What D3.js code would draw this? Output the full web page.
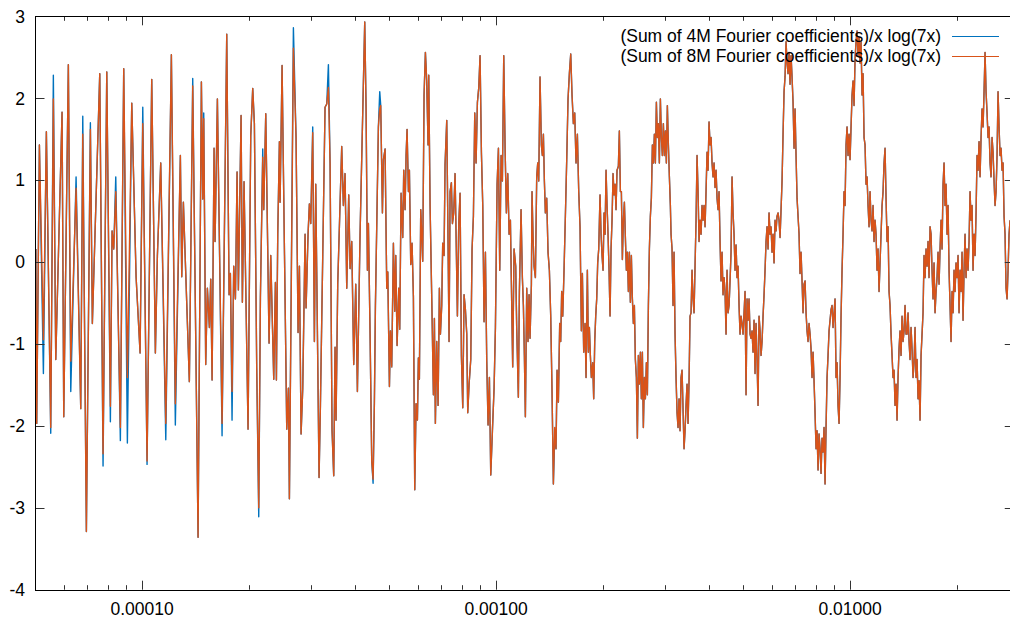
<!DOCTYPE html>
<html><head><meta charset="utf-8">
<script src="https://cdn.jsdelivr.net/npm/d3@7"></script>
<style>
html,body{margin:0;padding:0;background:#fff;}
svg{display:block;}
text{font-family:"Liberation Sans",Arial,Helvetica,sans-serif;fill:#000;}
</style>
</head><body>
<svg id="chart" width="1010" height="619"></svg>
<script>
// ---------- data ----------
const seriesLabels = ["(Sum of 4M Fourier coefficients)/x log(7x)", "(Sum of 8M Fourier coefficients)/x log(7x)"];
const seriesColors = ["#0072bd", "#d95319"];
const xDomain = [5e-5, 0.029];
const yDomain = [-4, 3];
const xTickValues = [1e-4, 1e-3, 1e-2];
const xTickLabels = ["0.00010", "0.00100", "0.01000"];
const yTickValues = [-4, -3, -2, -1, 0, 1, 2, 3];

// sparse part of the curve: [log10(x), y] (8M series)
const lowPoints = [
[-4.300,0.16],[-4.2976,-1.97],[-4.290,1.43],[-4.2787,-0.95],[-4.2703,1.59],[-4.258,-2.02],[-4.2506,1.99],[-4.2438,-1.19],[-4.226,1.83],[-4.2212,-1.89],[-4.2082,2.41],[-4.2014,-1.21],[-4.1864,0.90],[-4.1732,-1.79],[-4.1675,1.56],[-4.1573,-3.29],[-4.146,1.62],[-4.1404,-0.75],[-4.1195,2.30],[-4.1102,-2.34],[-4.0997,2.32],[-4.0895,-1.76],[-4.0847,0.38],[-4.08,0.16],[-4.0743,0.86],[-4.0613,-2.02],[-4.0518,2.36],[-4.0415,-1.41],[-4.0291,1.94],[-4.0169,-0.18],[-4.0056,-1.11],[-3.998,1.69],[-3.9859,-2.43],[-3.9727,2.23],[-3.9624,-1.11],[-3.9567,0.08],[-3.9473,1.21],[-3.933,-1.97],[-3.9172,2.53],[-3.906,-1.73],[-3.8918,1.30],[-3.8879,-0.18],[-3.8833,0.73],[-3.8664,-1.46],[-3.8569,2.15],[-3.8418,-3.36],
[-3.8324,2.20],[-3.8286,0.77],[-3.8258,1.75],[-3.8202,-1.25],[-3.8155,-0.32],[-3.8098,-0.80],[-3.8060,-0.21],[-3.8022,-1.44],[-3.7966,1.39],[-3.7938,0.25],[-3.7872,1.99],[-3.7740,-1.97],[-3.7608,2.78],[-3.7542,-0.40],[-3.7505,-0.14],[-3.7458,-1.58],[-3.7411,-0.05],[-3.7363,-0.45],[-3.7316,1.10],[-3.7279,-0.34],[-3.7203,1.79],[-3.7166,-0.49],[-3.7119,0.98],[-3.7006,-2.04],[-3.6930,1.54],[-3.6874,2.12],[-3.6827,1.69],[-3.6761,-1.30],[-3.6704,-3.00],[-3.6657,-0.43],[-3.6591,1.28],[-3.6563,0.64],[-3.6506,1.81],[-3.6412,-0.99],[-3.6365,0.08],[-3.6280,-1.43],[-3.6233,-0.25],[-3.6205,-1.44],[-3.6167,0.34],[-3.6120,1.47],[-3.6101,0.73],[-3.6045,2.40],[-3.5913,-2.04],[-3.5866,-1.54],[-3.5838,-2.89],[-3.5725,2.61],[-3.5650,1.52],[-3.5593,-0.86],[-3.5555,-0.05],[-3.5508,-2.10],[-3.5461,-1.54],[-3.5395,0.34],[-3.5367,-0.56],[-3.5311,0.34],[-3.5273,0.71],[-3.5235,0.47],[-3.5179,1.58],[-3.5132,-0.97],[-3.5094,0.95],[-3.5000,-2.63],[-3.4962,-1.75],[-3.4831,1.89],[-3.4783,1.93],[-3.4736,2.13],[-3.4689,1.21],[-3.4633,-2.06],[-3.4586,-2.61],[-3.4548,-1.04],[-3.4520,-1.93],[-3.4473,-0.27],[-3.4360,1.41],[-3.4313,0.69],[-3.4266,1.08],[-3.4218,-0.32],[-3.4162,0.82],[-3.4124,-0.08],[-3.4077,0.25],[-3.4021,-1.25],[-3.3964,-0.27],[-3.3917,-1.58],[-3.3842,0.34],
[-3.3710,2.93],[-3.3672,1.87],[-3.3634,-0.10],[-3.3606,0.47],[-3.3559,-0.88],[-3.3512,-2.43],[-3.3474,-2.65],[-3.3437,-1.71],[-3.3408,-0.53],[-3.3324,1.65],[-3.3286,1.87],[-3.3258,1.91],[-3.3210,0.60],[-3.3182,1.25],[-3.3135,1.38],[-3.3088,-0.32],[-3.3059,-0.12],[-3.3012,-1.52],[-3.2984,-0.84],[-3.2947,-1.28],[-3.2900,0.23],[-3.2862,-0.60],[-3.2834,0.08],[-3.2796,-1.02],[-3.2749,-0.32],[-3.2721,-0.82],[-3.2683,0.84],[-3.2636,0.30],[-3.2608,1.12],[-3.2570,0.64],[-3.2542,1.30],[-3.2514,1.62],[-3.2476,0.86],[-3.2448,1.12],[-3.2410,-0.03],[-3.2373,0.23],[-3.2335,-0.43],[-3.2297,-2.78],[-3.2260,-1.73],[-3.2222,-1.93],[-3.2194,-1.17],[-3.2166,-1.43],[-3.2128,0.64],[-3.2100,0.34],[-3.2072,0.01],[-3.2034,2.04],[-3.1996,2.56],[-3.1959,2.21],[-3.1921,1.43],[-3.1902,2.28],[-3.1864,0.69],[-3.1808,-0.66],[-3.1770,-1.62],[-3.1742,-0.69],[-3.1714,-1.97],[-3.1676,-0.97],[-3.1638,-1.75],[-3.1601,-0.32],[-3.1572,-0.88],[-3.1535,-0.53],[-3.1507,0.23],[-3.1469,0.08],[-3.1441,1.19],[-3.1393,1.73],[-3.1356,0.23],[-3.1328,-0.97],[-3.1299,0.86],[-3.1262,0.97],[-3.1233,0.47],[-3.1196,0.60],[-3.1158,1.08],[-3.1130,0.34],[-3.1092,-0.66],[-3.1054,0.47],[-3.1017,0.84],[-3.0979,-1.14],[-3.0941,-1.78],[-3.0904,-0.40],[-3.0866,-0.58],[-3.0828,-0.88],[-3.0800,-1.84],[-3.0762,-1.49],[-3.0715,-1.19],[-3.0678,0.16],[-3.0640,0.56],[-3.0602,1.82],[-3.0565,1.21],[-3.0527,1.95],[-3.0489,2.13],[-3.0452,2.52],[-3.0414,1.34],[-3.0376,0.69],[-3.0339,-0.73],[-3.0301,0.12],[-3.0263,-1.21],[-3.0226,-1.99],[-3.0188,-1.41],[-3.0150,-2.60],[-3.0103,-2.06],[-3.0056,-1.54],[-3.0018,-0.80],[-2.9971,0.95],[-2.9933,1.39],[-2.9896,-0.10],[-2.9858,1.30],[-2.9821,0.99],[-2.9783,2.52],[-2.9745,1.39],[-2.9708,0.60],[-2.9670,1.08],[-2.9632,0.34],[-2.9595,0.51],
[-2.9530,-1.28],[-2.9492,0.16],[-2.9445,-0.05],[-2.9417,-0.80],[-2.9370,-1.65],[-2.9341,-0.36],[-2.9294,0.64],[-2.9257,-0.19],[-2.9228,-0.53],[-2.9200,-1.14],[-2.9172,-1.89],[-2.9134,-0.32],[-2.9097,-0.97],[-2.9068,-0.40],[-2.9040,-0.93],[-2.9002,-0.27],[-2.8984,0.86],[-2.8955,0.30],[-2.8927,-0.05],[-2.8889,-0.19],[-2.8852,1.04],[-2.8823,1.21],[-2.8795,0.99],[-2.8758,2.26],[-2.8720,1.43],[-2.8692,1.30],[-2.8663,1.56],[-2.8635,0.99],[-2.8607,0.60],[-2.8569,0.78],[-2.8532,0.12],[-2.8494,-0.10],[-2.8456,-0.66],[-2.8419,-1.58],[-2.8381,-2.71],[-2.8343,-2.02],[-2.8306,-2.28],[-2.8277,-1.32],[-2.8240,-1.71],[-2.8202,-0.75],[-2.8174,-0.97],[-2.8146,-0.36],[-2.8117,-0.66],[-2.8080,-0.10],[-2.8042,0.56],[-2.8004,1.25],[-2.7967,1.99],[-2.7929,2.30],[-2.7891,2.54],[-2.7854,2.04],[-2.7816,1.69],[-2.7778,1.82],[-2.7741,1.21],[-2.7703,1.56],[-2.7665,0.86],[-2.7628,0.43],[-2.7590,-0.84],[-2.7562,-0.14],[-2.7524,-1.10],[-2.7486,-0.75],[-2.7458,-1.41],[-2.7421,-0.10],[-2.7392,-1.10],[-2.7364,-0.80],[-2.7336,-1.14],[-2.7308,-1.41],[-2.7270,-1.23],[-2.7242,-1.67],[-2.7213,-0.97],[-2.7185,-0.66],[-2.7157,-0.45],[-2.7129,-0.01],[-2.7100,0.16],[-2.7063,0.82],[-2.7034,0.34],[-2.7006,0.08],[-2.6978,-0.10],[-2.6950,0.60],[-2.6921,0.34],[-2.6893,1.12],[-2.6865,0.69],[-2.6837,0.34],[-2.6808,-0.10],[-2.6780,-0.66],[-2.6752,0.16],[-2.6724,0.51],[-2.6695,1.08],[-2.6667,0.82],[-2.6639,0.95],[-2.6611,0.64],[-2.6583,1.12],[-2.6545,1.17],[-2.6517,1.60],[-2.6488,0.86],[-2.6460,0.86],[-2.6432,0.03],[-2.6404,0.51],[-2.6375,0.73],[-2.6347,0.30],[-2.6319,-0.10],[-2.6291,0.12],[-2.6262,-0.36],[-2.6234,0.12],[-2.6206,-0.49],[-2.6178,0.08],[-2.6149,-0.45],[-2.6121,-0.75],[-2.6093,-0.53],[-2.6065,-1.19],[-2.6036,-1.41],[-2.6008,-2.15],[-2.5980,-1.14],[-2.5952,-1.49],[-2.5923,-1.10],[-2.5895,-1.67],[-2.5867,-1.10],[-2.5839,-2.02],[-2.5810,-1.41],[-2.5782,-1.67],[-2.5754,-1.23],[-2.5726,-1.62],[-2.5697,-0.53],[-2.5669,0.16],[-2.5641,0.56],[-2.5613,0.78],[-2.5584,1.43],[-2.5556,1.21],[-2.5528,1.56],[-2.5500,1.21],[-2.5471,1.95],[-2.5443,1.52],[-2.5415,1.69],[-2.5387,1.21],[-2.5358,1.99],[-2.5330,1.52],[-2.5302,1.30],[-2.5274,1.69],[-2.5245,1.30],[-2.5217,1.60],[-2.5189,1.21],[-2.5161,1.91],[-2.5132,1.43],[-2.5104,1.04],[-2.5076,0.69]
];

// dense part of the curve: sampled on a regular log10(x) grid
const gridStartLog = -2.5057;
const gridStepLog = 0.0028249;
const gridY = [
0.34,0.16,-0.53,0.12,-0.88,-1.41,-1.84,-2.02,-1.67,-2.06,-1.41,-1.32,-1.80,-2.28,-2.06,-1.75,-1.49,-1.97,-1.45,-0.66,
-0.62,-0.10,-0.45,-0.62,-0.05,0.51,1.30,0.86,0.25,0.51,0.34,0.69,0.51,0.69,0.43,0.86,1.34,1.12,1.71,1.43,
1.52,1.21,1.04,1.21,0.91,1.12,0.78,0.64,0.86,0.25,-0.23,0.12,-0.40,-0.19,-0.36,-0.88,-0.10,-0.62,-0.53,-0.23,
0.12,1.04,0.60,0.34,-0.10,0.21,-0.19,-0.05,-0.53,-0.88,-0.66,-0.75,-0.88,-0.62,-0.36,-1.62,-0.45,-0.71,-0.45,-0.88,
-0.93,-0.84,-1.10,-0.71,-1.36,-0.75,-1.19,-1.75,-0.66,-0.84,-1.14,-0.97,-0.66,-0.40,-0.10,0.25,0.43,0.16,0.60,0.34,
0.43,0.12,0.34,-0.01,0.51,0.38,0.56,0.60,0.51,0.30,0.64,0.99,1.56,2.08,2.26,2.69,2.43,2.30,2.56,2.17,
2.52,2.26,1.95,1.39,1.87,1.30,0.78,0.56,0.34,-0.14,0.12,-0.23,-0.62,-0.27,-0.23,-0.62,-0.84,-0.97,-0.75,-0.88,
-1.06,-1.41,-1.10,-1.45,-1.84,-2.28,-2.06,-2.54,-2.10,-2.28,-2.58,-2.15,-2.32,-2.02,-2.71,-2.02,-1.41,-1.14,-0.84,-0.71,
-0.58,-0.53,-0.80,-0.62,-0.45,-1.41,-1.23,-1.75,-1.97,-1.41,-0.66,-0.10,0.34,0.86,0.69,1.43,1.65,1.30,1.56,1.25,
1.65,2.04,2.21,1.91,2.48,2.69,2.82,2.52,2.74,2.43,2.69,2.04,2.30,1.52,1.43,0.95,1.04,0.69,0.43,0.86,
0.51,0.38,0.69,0.25,0.51,0.34,-0.10,0.16,-0.36,-0.01,0.34,0.69,0.86,1.21,1.39,0.78,0.25,0.43,-0.36,-0.53,
-0.88,-1.14,-1.41,-1.32,-1.75,-1.49,-1.93,-1.41,-1.06,-0.84,-1.14,-0.66,-0.97,-0.84,-0.53,-0.88,-0.88,-0.62,-0.97,-1.19,
-0.80,-1.06,-1.41,-1.23,-0.80,-1.41,-1.19,-1.67,-1.45,-1.93,-1.14,-0.88,-0.62,0.08,-0.19,0.16,-0.05,0.25,-0.19,0.43,
0.34,-0.10,-0.45,-0.01,-0.62,-0.36,-0.19,0.12,-0.27,0.16,0.51,0.16,0.95,1.21,0.69,0.95,0.34,0.69,-0.10,-0.53,
-0.97,-0.36,-0.62,-0.10,-0.36,-0.01,-0.19,0.08,-0.62,-0.10,-0.36,0.12,-0.71,-0.10,0.34,-0.19,0.16,-0.10,0.25,0.86,
0.51,0.69,-0.10,0.34,0.08,0.60,1.30,1.12,1.47,1.04,1.52,1.87,1.65,2.08,2.56,2.08,1.82,1.52,1.65,1.21,
1.04,1.52,1.34,0.99,0.69,0.86,1.30,2.08,1.65,1.30,1.39,1.12,1.21,0.56,0.34,-0.32,-0.45,-0.10,0.34,0.51
];

// points where the 4M series differs visibly from the 8M series: [log10(x), y]
const blueDiff = [
[-4.2787,-1.36],[-4.258,-2.09],[-4.2506,2.28],[-4.2014,-1.58],[-4.1864,1.04],[-4.1675,1.78],[-4.146,1.70],
[-4.1102,-2.49],[-4.0895,-1.95],[-4.0743,1.04],[-4.0613,-2.18],[-4.0415,-2.21],[-3.998,1.89],[-3.9859,-2.47],
[-3.933,-2.17],[-3.906,-1.99],[-3.8569,2.24],[-3.8258,1.82],[-3.7740,-2.12],[-3.7458,-1.93],[-3.6704,-3.11],
[-3.6591,1.38],[-3.5725,2.86],[-3.5179,1.65],[-3.4736,2.41],[-3.3286,2.08],[-3.3474,-2.70],[-2.8343,-2.12]
];

// ---------- build ----------
const W = 1010, H = 619;
const plotL = 35.5, plotT = 16.3, plotB = 589.7;
const decadePx = 354;
const plotR = plotL + decadePx * Math.log10(xDomain[1] / xDomain[0]);

const svg = d3.select("#chart");
svg.append("rect").attr("width", W).attr("height", H).attr("fill", "#fff");

const x = d3.scaleLog().domain(xDomain).range([plotL, plotR]);
const y = d3.scaleLinear().domain(yDomain).range([plotB, plotT]);

const orange = lowPoints.map(([l, v]) => ({x: Math.pow(10, l), y: v}))
  .concat(gridY.map((v, i) => ({x: Math.pow(10, gridStartLog + i * gridStepLog), y: v})));
const diffMap = new Map(blueDiff.map(([l, v]) => [l.toFixed(4), v]));
const blue = lowPoints.map(([l, v]) => ({x: Math.pow(10, l), y: diffMap.has(l.toFixed(4)) ? diffMap.get(l.toFixed(4)) : v}))
  .concat(gridY.map((v, i) => ({x: Math.pow(10, gridStartLog + i * gridStepLog), y: v})));

svg.append("defs").append("clipPath").attr("id", "clip")
  .append("rect").attr("x", plotL).attr("y", plotT).attr("width", plotR - plotL).attr("height", plotB - plotT);

const line = d3.line().x(d => x(d.x)).y(d => y(d.y));
const g = svg.append("g").attr("clip-path", "url(#clip)");
[blue, orange].forEach((data, i) => {
  g.append("path").datum(data).attr("d", line)
    .attr("fill", "none").attr("stroke", seriesColors[i])
    .attr("stroke-width", 1.4).attr("stroke-linejoin", "round");
});

// ticks
const tickCol = "#333";
const ticks = svg.append("g").attr("stroke", tickCol).attr("stroke-width", 1);
yTickValues.forEach(v => {
  const yy = Math.round(y(v)) + 0.5;
  ticks.append("line").attr("x1", plotL).attr("x2", plotL + 9).attr("y1", yy).attr("y2", yy);
  ticks.append("line").attr("x1", plotR).attr("x2", plotR - 9).attr("y1", yy).attr("y2", yy);
});
const minorVals = [];
for (let d = -5; d <= -1; d++) for (let m = 2; m <= 9; m++) {
  const v = m * Math.pow(10, d);
  if (v > xDomain[0] && v < xDomain[1]) minorVals.push(v);
}
minorVals.forEach(v => {
  const xx = Math.round(x(v)) + 0.5;
  ticks.append("line").attr("x1", xx).attr("x2", xx).attr("y1", plotB).attr("y2", plotB - 4.5);
  ticks.append("line").attr("x1", xx).attr("x2", xx).attr("y1", plotT).attr("y2", plotT + 4.5);
});
xTickValues.forEach(v => {
  const xx = Math.round(x(v)) + 0.5;
  ticks.append("line").attr("x1", xx).attr("x2", xx).attr("y1", plotB).attr("y2", plotB - 9);
  ticks.append("line").attr("x1", xx).attr("x2", xx).attr("y1", plotT).attr("y2", plotT + 9);
});

// border
svg.append("rect").attr("x", plotL).attr("y", Math.round(plotT) + 0.5)
  .attr("width", plotR - plotL).attr("height", Math.round(plotB) - Math.round(plotT))
  .attr("fill", "none").attr("stroke", "#000").attr("stroke-width", 1);

// labels
const fs = 17.5;
yTickValues.forEach(v => {
  svg.append("text").attr("x", 25).attr("y", y(v)).attr("dy", "0.36em")
    .attr("text-anchor", "end").attr("font-size", fs).text(String(v));
});
xTickValues.forEach((v, i) => {
  svg.append("text").attr("x", x(v)).attr("y", 615)
    .attr("text-anchor", "middle").attr("font-size", fs).text(xTickLabels[i]);
});

// legend
seriesLabels.forEach((lab, i) => {
  const ly = 36 + i * 20;
  svg.append("text").attr("x", 941).attr("y", ly).attr("dy", "0.36em")
    .attr("text-anchor", "end").attr("font-size", fs).text(lab);
  svg.append("line").attr("x1", 952).attr("x2", 999).attr("y1", ly + 0.5).attr("y2", ly + 0.5)
    .attr("stroke", seriesColors[i]).attr("stroke-width", 1.2);
});
</script>
</body></html>
